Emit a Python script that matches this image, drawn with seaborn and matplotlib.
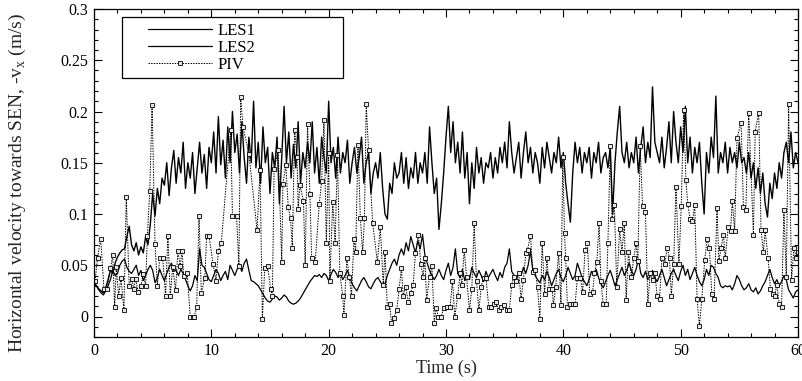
import numpy as np
import pandas as pd
import matplotlib
matplotlib.use("Agg")
import matplotlib.pyplot as plt
from matplotlib.ticker import MultipleLocator
from matplotlib.lines import Line2D
from matplotlib.patches import Rectangle
import seaborn as sns

# ---------------- data ----------------
les_step = 0.2  # s, sampling of the LES traces

les1 = [
    0.034,0.030,0.027,0.025,0.023,0.028,0.036,0.045,0.042,0.052,
    0.058,0.062,0.065,0.066,0.078,0.088,0.070,0.064,0.072,0.060,
    0.068,0.062,0.078,0.070,0.090,0.120,0.098,0.125,0.110,0.135,
    0.128,0.150,0.118,0.145,0.162,0.130,0.155,0.140,0.170,0.125,
    0.150,0.135,0.160,0.120,0.145,0.170,0.140,0.158,0.125,0.165,
    0.150,0.180,0.140,0.195,0.148,0.172,0.135,0.185,0.150,0.200,
    0.160,0.178,0.140,0.190,0.155,0.130,0.175,0.150,0.210,0.145,
    0.170,0.130,0.185,0.150,0.165,0.120,0.160,0.145,0.175,0.110,
    0.155,0.205,0.150,0.180,0.135,0.168,0.145,0.190,0.130,0.160,
    0.145,0.170,0.150,0.190,0.140,0.165,0.130,0.175,0.155,0.140,
    0.210,0.150,0.165,0.135,0.175,0.140,0.160,0.150,0.172,0.130,
    0.150,0.165,0.140,0.155,0.175,0.130,0.150,0.160,0.120,0.140,
    0.150,0.135,0.160,0.125,0.100,0.095,0.130,0.120,0.150,0.135,
    0.140,0.160,0.130,0.155,0.125,0.145,0.135,0.160,0.130,0.150,
    0.140,0.160,0.130,0.185,0.150,0.120,0.135,0.085,0.110,0.140,
    0.175,0.205,0.160,0.190,0.150,0.170,0.140,0.180,0.135,0.160,
    0.110,0.150,0.125,0.165,0.140,0.155,0.130,0.150,0.145,0.160,
    0.135,0.155,0.140,0.165,0.150,0.170,0.145,0.190,0.160,0.140,
    0.155,0.170,0.135,0.160,0.180,0.150,0.165,0.140,0.160,0.150,
    0.130,0.165,0.145,0.170,0.155,0.140,0.160,0.150,0.175,0.145,
    0.160,0.130,0.110,0.092,0.140,0.170,0.150,0.165,0.140,0.160,
    0.150,0.165,0.135,0.160,0.150,0.170,0.140,0.155,0.160,0.145,
    0.165,0.100,0.150,0.180,0.205,0.160,0.150,0.170,0.145,0.160,
    0.150,0.175,0.140,0.165,0.185,0.150,0.170,0.155,0.224,0.170,
    0.160,0.150,0.175,0.145,0.165,0.190,0.150,0.200,0.170,0.150,
    0.185,0.160,0.205,0.150,0.175,0.140,0.165,0.150,0.170,0.130,
    0.100,0.160,0.140,0.175,0.155,0.215,0.140,0.160,0.150,0.170,
    0.140,0.165,0.150,0.160,0.145,0.170,0.150,0.155,0.140,0.160,
    0.135,0.150,0.125,0.145,0.120,0.140,0.110,0.097,0.130,0.115,
    0.140,0.125,0.150,0.135,0.160,0.170,0.150,0.180,0.145,0.160,
    0.150,
]

les2 = [
    0.032,0.030,0.026,0.023,0.021,0.025,0.030,0.036,0.045,0.040,
    0.042,0.050,0.054,0.056,0.048,0.044,0.042,0.046,0.050,0.040,
    0.045,0.035,0.040,0.046,0.050,0.045,0.033,0.038,0.046,0.040,
    0.035,0.042,0.048,0.052,0.044,0.045,0.040,0.046,0.042,0.036,
    0.030,0.025,0.030,0.040,0.035,0.066,0.050,0.048,0.042,0.036,
    0.034,0.040,0.046,0.042,0.035,0.040,0.044,0.036,0.050,0.045,
    0.040,0.046,0.050,0.044,0.052,0.056,0.045,0.035,0.034,0.032,
    0.030,0.026,0.022,0.018,0.015,0.014,0.017,0.020,0.019,0.016,
    0.018,0.021,0.019,0.015,0.013,0.012,0.013,0.015,0.018,0.022,
    0.026,0.030,0.034,0.037,0.040,0.039,0.041,0.038,0.042,0.040,
    0.035,0.041,0.046,0.043,0.038,0.042,0.036,0.040,0.045,0.038,
    0.032,0.028,0.025,0.030,0.035,0.038,0.034,0.029,0.027,0.032,
    0.036,0.038,0.034,0.030,0.032,0.040,0.046,0.052,0.056,0.050,
    0.060,0.066,0.060,0.072,0.064,0.078,0.070,0.062,0.074,0.066,
    0.080,0.060,0.052,0.045,0.040,0.036,0.040,0.046,0.040,0.036,
    0.045,0.052,0.040,0.048,0.066,0.042,0.038,0.046,0.035,0.040,
    0.036,0.048,0.042,0.038,0.045,0.040,0.034,0.044,0.038,0.042,
    0.046,0.040,0.035,0.043,0.038,0.048,0.052,0.066,0.044,0.040,
    0.036,0.043,0.040,0.048,0.042,0.050,0.064,0.045,0.040,0.036,
    0.033,0.040,0.036,0.044,0.038,0.030,0.036,0.042,0.046,0.038,
    0.034,0.040,0.048,0.042,0.036,0.040,0.052,0.045,0.038,0.034,
    0.030,0.036,0.044,0.040,0.046,0.038,0.032,0.028,0.034,0.040,
    0.045,0.038,0.030,0.036,0.042,0.048,0.040,0.045,0.052,0.045,
    0.040,0.046,0.056,0.042,0.038,0.044,0.036,0.040,0.045,0.038,
    0.034,0.040,0.046,0.038,0.030,0.036,0.042,0.046,0.040,0.035,
    0.044,0.050,0.040,0.046,0.036,0.042,0.048,0.040,0.034,0.030,
    0.036,0.046,0.040,0.050,0.048,0.042,0.038,0.030,0.028,0.030,
    0.029,0.030,0.026,0.032,0.040,0.036,0.030,0.026,0.028,0.032,
    0.026,0.024,0.028,0.022,0.025,0.030,0.034,0.040,0.046,0.038,
    0.032,0.036,0.030,0.034,0.040,0.036,0.026,0.022,0.018,0.024,
    0.026,
]

piv_time = [
    0.1,0.3,0.57,0.85,1.1,1.4,1.6,1.76,1.9,2.1,
    2.3,2.55,2.75,3.0,3.2,3.4,3.55,3.75,4.0,4.2,
    4.4,4.55,4.75,4.95,5.2,5.4,5.6,5.85,6.1,6.3,
    6.5,6.7,6.95,7.15,7.35,7.5,7.65,7.95,8.2,8.4,
    8.55,8.75,8.95,9.15,9.45,9.6,9.8,10.15,10.4,10.6,
    10.85,11.65,11.8,12.15,12.35,12.5,12.7,13.2,13.9,14.15,
    14.35,14.55,14.8,15.05,15.2,15.35,15.7,16.0,16.1,16.35,
    16.55,16.75,16.9,17.1,17.3,17.4,17.55,17.85,18.0,18.2,
    18.4,18.55,18.85,19.2,19.4,19.6,19.8,20.0,20.1,20.35,
    20.55,20.75,20.95,21.2,21.3,21.55,21.75,21.95,22.15,22.3,
    22.5,22.7,22.9,23.05,23.2,23.4,23.75,24.15,24.4,24.65,
    24.8,25.0,25.2,25.35,25.55,25.8,26.0,26.2,26.35,26.55,
    26.8,27.0,27.2,27.4,27.65,27.85,28.05,28.2,28.35,28.6,
    28.8,29.0,29.15,29.35,29.6,29.8,30.05,30.35,30.55,30.75,
    31.0,31.2,31.35,31.55,31.75,32.0,32.2,32.4,32.6,32.8,
    33.0,33.2,33.4,33.65,33.85,34.05,34.25,34.5,34.7,34.95,
    35.2,35.4,35.6,35.8,36.0,36.2,36.4,36.6,36.8,36.95,
    37.2,37.4,37.6,37.8,38.0,38.2,38.4,38.6,38.8,39.05,
    39.15,39.35,39.6,39.8,39.95,40.1,40.2,40.35,40.55,40.8,
    41.0,41.2,41.45,41.65,41.85,42.05,42.25,42.5,42.65,42.85,
    43.05,43.2,43.4,43.65,43.8,44.0,44.15,44.35,44.55,44.8,
    45.0,45.2,45.35,45.55,45.8,46.0,46.2,46.35,46.55,46.75,
    47.0,47.2,47.4,47.6,47.8,48.0,48.2,48.4,48.65,48.85,
    49.05,49.2,49.4,49.6,49.85,50.05,50.25,50.45,50.6,50.8,
    51.0,51.2,51.4,51.6,51.8,52.05,52.25,52.45,52.65,52.85,
    53.1,53.25,53.45,53.65,53.8,54.05,54.25,54.4,54.6,54.8,
    55.15,55.35,55.55,55.8,56.2,56.35,56.65,56.85,57.05,57.2,
    57.45,57.65,57.85,58.0,58.2,58.4,58.6,58.8,59.0,59.2,
    59.45,59.65,59.85,60.0,
]

piv_value = [
    0.035,0.057,0.076,0.027,0.027,0.047,0.060,0.009,0.048,0.020,
    0.038,0.006,0.117,0.030,0.037,0.027,0.037,0.024,0.030,0.041,
    0.030,0.079,0.122,0.206,0.071,0.030,0.057,0.057,0.020,0.079,
    0.020,0.048,0.026,0.064,0.049,0.064,0.040,0.042,0.000,0.000,
    0.000,0.009,0.098,0.023,0.038,0.079,0.079,0.051,0.035,0.064,
    0.072,0.182,0.098,0.098,0.049,0.214,0.185,0.159,0.084,0.143,
    -0.002,0.047,0.049,0.027,0.020,0.144,0.162,0.053,0.129,0.148,
    0.107,0.096,0.067,0.182,0.156,0.105,0.128,0.113,0.050,0.188,
    0.120,0.057,0.053,0.110,0.132,0.192,0.072,0.160,0.035,0.112,
    0.072,0.158,0.042,0.020,0.001,0.057,0.039,0.020,0.076,0.063,
    0.167,0.096,0.063,0.096,0.207,0.162,0.091,0.053,0.087,0.031,
    0.063,0.009,0.012,-0.006,-0.001,0.006,0.027,0.047,0.020,0.029,
    0.014,0.023,0.031,0.062,0.080,0.051,0.039,0.057,0.016,0.039,
    0.049,-0.006,0.008,0.000,0.000,0.008,0.009,0.009,0.035,0.000,
    0.020,0.042,0.031,0.065,0.039,0.006,0.027,0.091,0.035,0.006,
    0.029,0.038,0.038,0.009,0.009,0.012,0.014,0.006,0.009,0.011,
    0.006,0.006,0.031,0.039,0.035,0.042,0.017,0.036,0.062,0.065,
    0.079,0.043,0.045,0.029,-0.002,0.072,0.022,0.057,0.027,0.027,
    0.011,0.029,0.062,0.011,0.156,0.081,0.057,0.009,0.012,0.012,
    0.012,0.038,0.038,0.024,0.065,0.072,0.022,0.024,0.042,0.053,
    0.091,0.035,0.012,0.012,0.072,0.166,0.095,0.109,0.029,0.085,
    0.063,0.091,0.016,0.063,0.039,0.057,0.072,0.054,0.166,0.108,
    0.102,0.012,0.042,0.036,0.042,0.020,0.017,0.057,0.051,0.067,
    0.057,0.020,0.051,0.126,0.051,0.108,0.201,0.133,0.110,0.095,
    0.093,0.109,0.017,-0.009,0.017,0.055,0.076,0.067,0.022,0.017,
    0.106,0.054,0.067,0.080,0.057,0.087,0.083,0.113,0.083,0.174,
    0.189,0.107,0.104,0.199,0.080,0.180,0.199,0.084,0.063,0.084,
    0.057,0.027,0.022,0.020,0.031,0.012,0.009,0.104,0.039,0.207,
    0.036,0.067,0.057,0.063,
]

series_names = ["LES1", "LES2", "PIV"]
x_label = "Time (s)"
y_label = r"Horizontal velocity towards SEN, -v$_\mathregular{x}$ (m/s)"
y_ticks = [0, 0.05, 0.1, 0.15, 0.2, 0.25, 0.3]
y_tick_labels = ["0", "0.05", "0.1", "0.15", "0.2", "0.25", "0.3"]

# ---------------- build tables ----------------
les_time = np.round(np.arange(len(les1)) * les_step, 2)
df_les1 = pd.DataFrame({"t": les_time, "v": les1})
df_les2 = pd.DataFrame({"t": les_time[:len(les2)], "v": les2})
df_piv = pd.DataFrame({"t": piv_time, "v": piv_value})

# ---------------- figure ----------------
sns.set_style("ticks")
plt.rcParams["font.family"] = ["Liberation Serif", "DejaVu Serif"]
plt.rcParams["mathtext.fontset"] = "custom"
plt.rcParams["mathtext.rm"] = "Liberation Serif"

W, H = 803, 381
fig = plt.figure(figsize=(W / 100, H / 100), dpi=100)
ax_l, ax_r, ax_t, ax_b = 94, 798, 9, 337
ax = fig.add_axes([ax_l / W, 1 - ax_b / H, (ax_r - ax_l) / W, (ax_b - ax_t) / H])

piv_style = dict(color="black", linewidth=0.7, linestyle=(0, (1.5, 1.2)),
                 marker="s", markersize=3.4, markerfacecolor="#e6e6e6",
                 markeredgecolor="black", markeredgewidth=0.6)

sns.lineplot(data=df_les1, x="t", y="v", ax=ax, color="black", linewidth=1.0,
             estimator=None, sort=False)
sns.lineplot(data=df_les2, x="t", y="v", ax=ax, color="black", linewidth=0.9,
             estimator=None, sort=False)
sns.lineplot(data=df_piv, x="t", y="v", ax=ax, estimator=None, sort=False,
             **piv_style)

ax.set_xlim(0, 60)
ax.set_ylim(-0.02, 0.3)
ax.xaxis.set_major_locator(MultipleLocator(10))
ax.xaxis.set_minor_locator(MultipleLocator(2))
ax.yaxis.set_minor_locator(MultipleLocator(0.01))
ax.set_yticks(y_ticks)
ax.set_yticklabels(y_tick_labels)
ax.tick_params(which="both", direction="in", top=True, right=True,
               labelsize=11.5, colors="black", width=0.8)
ax.tick_params(which="major", length=6, pad=4)
ax.tick_params(which="minor", length=3)
for s in ax.spines.values():
    s.set_color("black")
    s.set_linewidth(0.9)

ax.set_xlabel(x_label, fontsize=13, labelpad=1)
ax.set_ylabel(y_label, fontsize=14)
ax.yaxis.set_label_coords((28 - ax_l) / (ax_r - ax_l), (ax_b - 183) / (ax_b - ax_t))


def ax_x(px):
    return (px - ax_l) / (ax_r - ax_l)


def ax_y(py):
    return (ax_b - py) / (ax_b - ax_t)


# legend frame (reference box spans x 122-343 px, y 17-78 px)
ax.add_patch(Rectangle((ax_x(122), ax_y(78)), ax_x(343) - ax_x(122),
                       ax_y(17) - ax_y(78), transform=ax.transAxes,
                       facecolor="white", edgecolor="black", linewidth=0.9,
                       zorder=5))

handles = [
    Line2D([], [], color="black", linewidth=0.9),
    Line2D([], [], color="black", linewidth=0.9),
    Line2D([], [], **piv_style),
]
leg = ax.legend(handles, series_names, loc="upper left",
                bbox_to_anchor=(ax_x(148), ax_y(23)),
                frameon=False, fontsize=12, handlelength=3.85,
                handletextpad=0.35, borderpad=0, labelspacing=0.05,
                borderaxespad=0)
leg.set_zorder(6)
for txt in leg.get_texts():
    txt.set_color("black")

fig.savefig("out.png", dpi=100)
